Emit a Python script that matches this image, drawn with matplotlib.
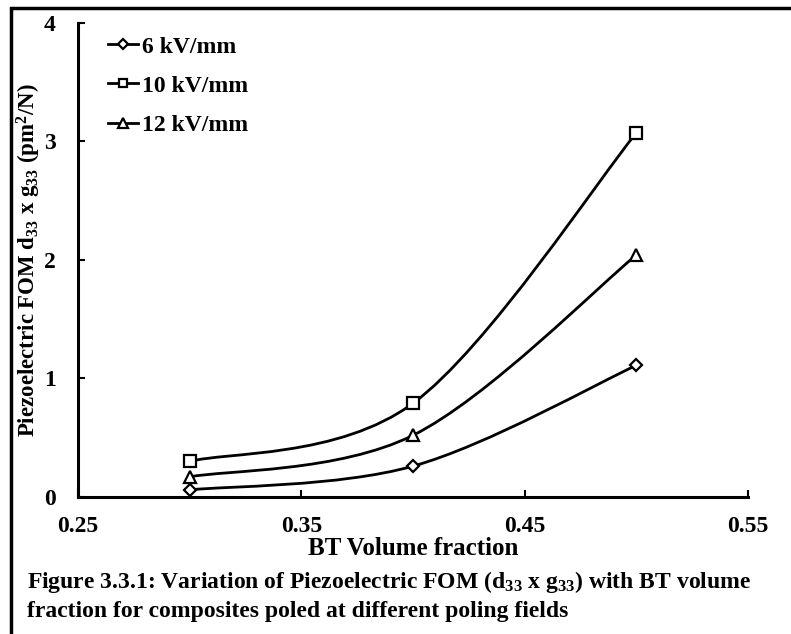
import matplotlib
matplotlib.use("Agg")
import matplotlib.pyplot as plt
from matplotlib.path import Path
from matplotlib.patches import PathPatch, Rectangle
from matplotlib.lines import Line2D

plt.rcParams['font.family'] = ['Liberation Serif', 'DejaVu Serif']
plt.rcParams['font.weight'] = 'bold'
plt.rcParams['mathtext.fontset'] = 'custom'
plt.rcParams['mathtext.rm'] = 'Liberation Serif:bold'
plt.rcParams['mathtext.bf'] = 'Liberation Serif:bold'
plt.rcParams['mathtext.it'] = 'Liberation Serif:bold'
plt.rcParams['mathtext.default'] = 'bf'

bt_fraction = [0.3, 0.4, 0.5]
series_labels = ['6 kV/mm', '10 kV/mm', '12 kV/mm']
fom_6kv = [0.06, 0.26, 1.11]
fom_10kv = [0.30, 0.79, 3.07]
fom_12kv = [0.17, 0.52, 2.04]
x_ticks = [0.25, 0.35, 0.45, 0.55]
y_ticks = [0, 1, 2, 3, 4]

fig = plt.figure(figsize=(7.91, 6.34), dpi=100)
ax = fig.add_axes([0.0986, 0.2161, 0.8470, 0.7481])


def smooth_path(xs, ys):
    # Excel-like smoothed line: cubic Bezier with Catmull-Rom control points
    n = len(xs)
    verts = [(xs[0], ys[0])]
    codes = [Path.MOVETO]
    for i in range(n - 1):
        p0 = (xs[max(i - 1, 0)], ys[max(i - 1, 0)])
        p1 = (xs[i], ys[i])
        p2 = (xs[i + 1], ys[i + 1])
        p3 = (xs[min(i + 2, n - 1)], ys[min(i + 2, n - 1)])
        c1 = (p1[0] + (p2[0] - p0[0]) / 6, p1[1] + (p2[1] - p0[1]) / 6)
        c2 = (p2[0] - (p3[0] - p1[0]) / 6, p2[1] - (p3[1] - p1[1]) / 6)
        verts += [c1, c2, p2]
        codes += [Path.CURVE4] * 3
    return Path(verts, codes)


styles = [
    (fom_6kv, 'D', 6),
    (fom_10kv, 's', 8),
    (fom_12kv, '^', 8.5),
]
handles = []
for (vals, mk, ms), lab in zip(styles, series_labels):
    ax.add_patch(PathPatch(smooth_path(bt_fraction, vals), facecolor='none',
                           edgecolor='black', lw=2, zorder=2))
    ax.plot(bt_fraction, vals, linestyle='none', marker=mk, ms=ms,
            mfc='white', mec='black', mew=1.6, zorder=3)
    handles.append(Line2D([], [], color='black', lw=2, marker=mk, ms=ms * 0.8,
                          mfc='white', mec='black', mew=1.6, label=lab))

ax.set_xlim(0.25, 0.55)
ax.set_ylim(0, 4)
ax.set_xticks(x_ticks)
ax.set_xticklabels([f'{v:.2f}' for v in x_ticks])
ax.set_yticks(y_ticks)
for s in ['top', 'right']:
    ax.spines[s].set_visible(False)
for s in ['left', 'bottom']:
    ax.spines[s].set_linewidth(2.2)
ax.tick_params(axis='both', direction='in', length=5, width=1.5,
               labelsize=17)
ax.tick_params(axis='y', pad=16)
ax.tick_params(axis='x', pad=14)
for t in ax.get_xticklabels() + ax.get_yticklabels():
    t.set_fontweight('bold')

ax.set_xlabel('BT Volume fraction', fontsize=18, fontweight='bold', labelpad=0)
ax.set_ylabel(r'Piezoelectric FOM d$_{33}$ x g$_{33}$ (pm$^{2}$/N)',
              fontsize=16.5, fontweight='bold', labelpad=0)
ax.yaxis.set_label_coords(-0.052, 0.5)

leg = ax.legend(handles=handles, loc='upper left', frameon=False,
                fontsize=17, handlelength=1.25, handletextpad=0.2,
                labelspacing=0.75, borderpad=0, borderaxespad=0,
                bbox_to_anchor=(0.045, 0.972))
for t in leg.get_texts():
    t.set_fontweight('bold')

fig.text(0.034, 1 - 582 / 634,
         r'Figure 3.3.1: Variation of Piezoelectric FOM (d$_{33}$ x g$_{33}$) with BT volume',
         fontsize=17, fontweight='bold', va='center', ha='left')
fig.text(0.034, 1 - 611 / 634,
         'fraction for composites poled at different poling fields',
         fontsize=17, fontweight='bold', va='center', ha='left')

fig.patches.append(Rectangle((11 / 791, -0.05), 1.2, 1 - 8 / 634 + 0.05,
                             transform=fig.transFigure, fill=False,
                             edgecolor='black', lw=2.5))

fig.savefig('out.png', dpi=100)
